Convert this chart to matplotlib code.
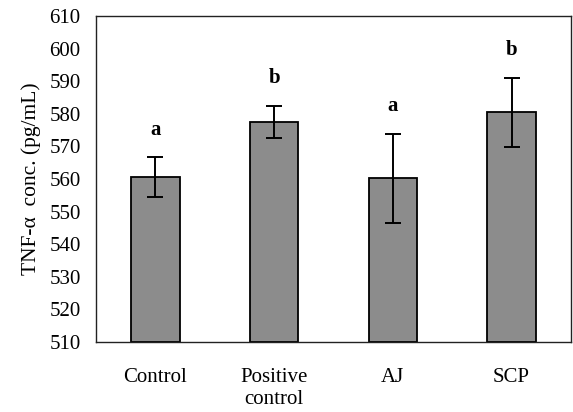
import matplotlib
matplotlib.use("Agg")
import matplotlib.pyplot as plt

categories = ["Control", "Positive\ncontrol", "AJ", "SCP"]
means = [560.6, 577.5, 560.2, 580.4]
errors = [6.0, 5.0, 13.6, 10.7]
letters = ["a", "b", "a", "b"]

plt.rcParams['font.family'] = ['Liberation Serif', 'DejaVu Serif']

fig = plt.figure(figsize=(5.73, 4.12), dpi=100)
ax = fig.add_axes([0.1675, 0.1699, 0.8290, 0.7913])

x = list(range(len(categories)))
ax.bar(x, [m - 510 for m in means], bottom=510, width=0.41,
       color='#8c8c8c', edgecolor='black', linewidth=1.3, zorder=2)
ax.errorbar(x, means, yerr=errors, fmt='none', ecolor='black',
            elinewidth=1.4, capsize=6, capthick=1.4, zorder=3)
for xi, m, e, l in zip(x, means, errors, letters):
    ax.text(xi, m + e + 5.5, l, ha='center', va='bottom', fontsize=15,
            fontweight='bold')

ax.set_xlim(-0.5, len(categories) - 0.5)
ax.set_ylim(510, 610)
ax.set_yticks(range(510, 611, 10))
ax.set_xticks(x)
ax.set_xticklabels(categories, fontsize=15, linespacing=1.2)
ax.tick_params(axis='x', length=0, pad=19)
ax.tick_params(axis='y', length=0, pad=11, labelsize=15)
ax.set_ylabel("TNF-\u03b1  conc. (pg/mL)", fontsize=15.5, labelpad=6)
for s in ax.spines.values():
    s.set_linewidth(1.0)
    s.set_color('#222222')

fig.savefig("out.png", dpi=100)
